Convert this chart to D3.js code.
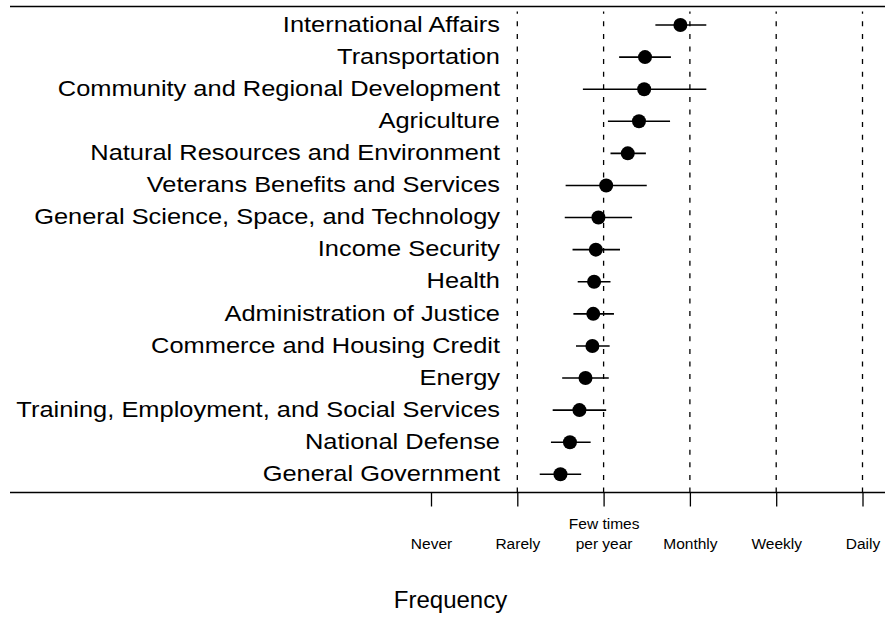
<!DOCTYPE html>
<html>
<head>
<meta charset="utf-8">
<script src="https://cdn.jsdelivr.net/npm/d3@7"></script>
<style>
  html, body { margin: 0; padding: 0; background: #fff; }
  svg text { font-family: "Liberation Sans", Arial, Helvetica, sans-serif; fill: #000; }
</style>
</head>
<body>
<svg id="chart" width="885" height="619"></svg>
<script>
// Budget functions, top to bottom
const categories = [
  "International Affairs",
  "Transportation",
  "Community and Regional Development",
  "Agriculture",
  "Natural Resources and Environment",
  "Veterans Benefits and Services",
  "General Science, Space, and Technology",
  "Income Security",
  "Health",
  "Administration of Justice",
  "Commerce and Housing Credit",
  "Energy",
  "Training, Employment, and Social Services",
  "National Defense",
  "General Government"
];
// Mean frequency (0 = Never ... 5 = Daily) with interval bounds
const means = [2.89, 2.48, 2.47, 2.41, 2.28, 2.03, 1.94, 1.91, 1.89, 1.88, 1.87, 1.79, 1.72, 1.61, 1.50];
const lower = [2.60, 2.18, 1.76, 2.05, 2.08, 1.56, 1.55, 1.64, 1.70, 1.65, 1.68, 1.52, 1.41, 1.39, 1.26];
const upper = [3.19, 2.78, 3.19, 2.77, 2.49, 2.50, 2.33, 2.19, 2.08, 2.12, 2.07, 2.06, 2.03, 1.85, 1.74];
// Frequency scale labels (each entry is one or more lines)
const tickValues = [0, 1, 2, 3, 4, 5];
const tickLabels = [["Never"], ["Rarely"], ["Few times", "per year"], ["Monthly"], ["Weekly"], ["Daily"]];
const gridValues = [1, 2, 3, 4, 5];

const svg = d3.select("#chart");
const x = d3.scaleLinear().domain([0, 5]).range([431, 862.5]);
const y = d3.scalePoint().domain(categories).range([25, 474.3]);
const frameLeft = 10, frameRight = 885, frameTop = 6.5, frameBottom = 492.5;

// Frame lines
svg.append("line")
  .attr("x1", frameLeft).attr("x2", frameRight)
  .attr("y1", frameTop).attr("y2", frameTop)
  .attr("stroke", "#000").attr("stroke-width", 1.5);

// Dashed reference lines
svg.append("g").selectAll("line").data(gridValues).join("line")
  .attr("x1", d => x(d)).attr("x2", d => x(d))
  .attr("y1", frameBottom).attr("y2", frameTop + 5)
  .attr("stroke", "#000").attr("stroke-width", 1.3)
  .attr("stroke-dasharray", "5,7.6");

// Bottom axis
const axis = d3.axisBottom(x)
  .tickValues(tickValues)
  .tickSize(14)
  .tickFormat(() => "");
const gx = svg.append("g").attr("transform", `translate(0,${frameBottom})`).call(axis);
gx.select(".domain").remove();
gx.selectAll(".tick line").attr("stroke", "#000").attr("stroke-width", 1.3);
gx.selectAll(".tick text").remove();
gx.selectAll(".tick").each(function(d, i) {
  const lines = tickLabels[i];
  const t = d3.select(this).append("text")
    .attr("text-anchor", "middle")
    .style("font-size", "15.5px");
  lines.forEach((s, j) => {
    t.append("tspan")
      .attr("x", 0)
      .attr("y", 56 - (lines.length - 1 - j) * 20)
      .text(s);
  });
});
svg.append("line")
  .attr("x1", frameLeft).attr("x2", frameRight)
  .attr("y1", frameBottom).attr("y2", frameBottom)
  .attr("stroke", "#000").attr("stroke-width", 1.5);

// Category labels
svg.append("g").selectAll("text").data(categories).join("text")
  .attr("transform", d => `translate(500,${y(d) + 6.7}) scale(1.13,1)`)
  .attr("text-anchor", "end")
  .style("font-size", "22.5px")
  .text(d => d);

// Interval segments
svg.append("g").selectAll("line").data(categories).join("line")
  .attr("x1", (d, i) => x(lower[i])).attr("x2", (d, i) => x(upper[i]))
  .attr("y1", d => y(d)).attr("y2", d => y(d))
  .attr("stroke", "#000").attr("stroke-width", 1.6);

// Mean points
svg.append("g").selectAll("circle").data(categories).join("circle")
  .attr("cx", (d, i) => x(means[i]))
  .attr("cy", d => y(d))
  .attr("r", 7)
  .attr("fill", "#000");

// Axis title
svg.append("text")
  .attr("x", 450.5).attr("y", 608)
  .attr("text-anchor", "middle")
  .style("font-size", "24px")
  .text("Frequency");
</script>
</body>
</html>
